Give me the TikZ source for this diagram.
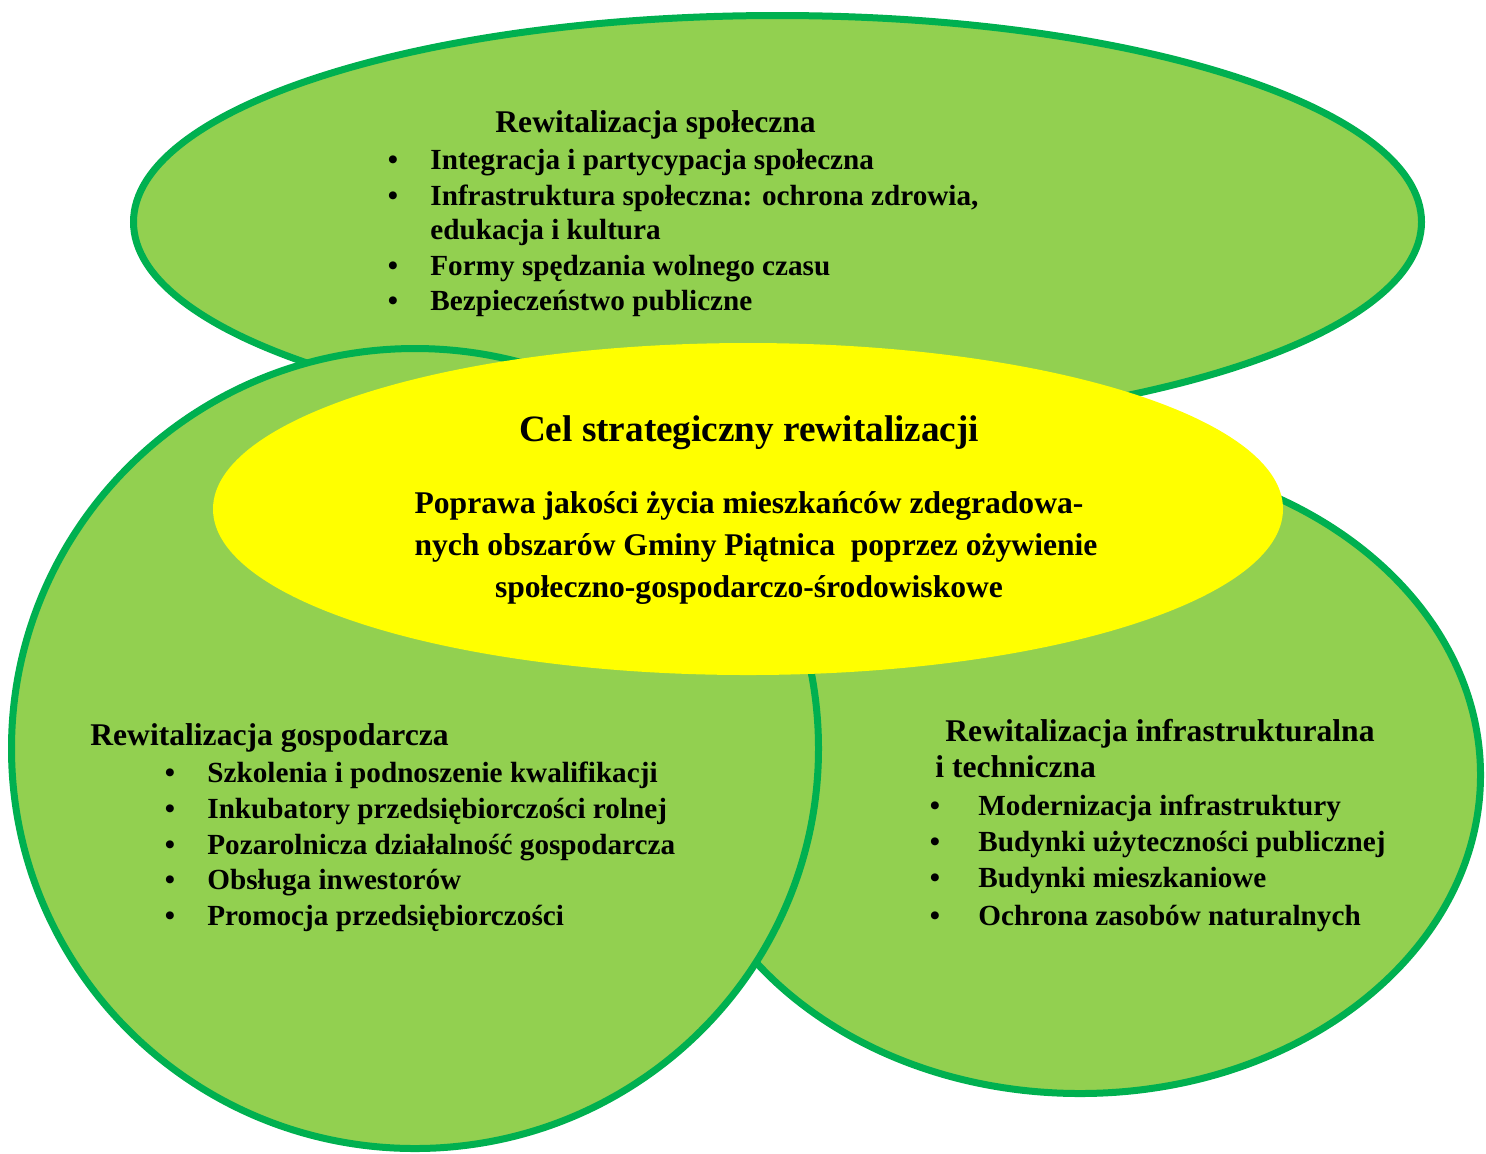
\documentclass[tikz,border=0pt]{standalone}
\usepackage{fontspec}
\setmainfont{Liberation Serif}
\definecolor{lgreen}{HTML}{92D050}
\definecolor{dgreen}{HTML}{00B050}
\definecolor{cyellow}{HTML}{FFFF00}
\begin{document}
\begin{tikzpicture}[x=0.5pt,y=-0.5pt,
  blob/.style={fill=lgreen,draw=dgreen,line width=3.5pt},
  head/.style={font=\bfseries\fontsize{15.8}{18}\selectfont,inner sep=0pt,anchor=base west},
  txt/.style={font=\bfseries\fontsize{14.6}{17}\selectfont,inner sep=0pt,anchor=base west},
  bul/.style={font=\bfseries\fontsize{14.6}{17}\selectfont,inner sep=0pt,anchor=base},
  ctr/.style={font=\bfseries\fontsize{15.8}{18}\selectfont,inner sep=0pt,anchor=base},
  big/.style={font=\bfseries\fontsize{18.6}{22}\selectfont,inner sep=0pt,anchor=base}]
\useasboundingbox (0,0) rectangle (1486,1153);
\clip (0,0) rectangle (1486,1153);
% shapes
\draw[blob] (777.5,222) ellipse [x radius=322pt, y radius=103.25pt];
\draw[blob] (1080,775) ellipse [x radius=200.25pt, y radius=159.25pt];
\draw[blob] (415,748.5) ellipse [x radius=201.75pt, y radius=200pt];
\fill[cyellow] (748,509) ellipse [x radius=267.5pt, y radius=83pt];
% top block
\node[head] (sh) at (495,132) {Rewitalizacja społeczna};
\node[bul] (sb1) at (393,169) {•};
\node[txt] (s1) at (430,169) {Integracja i partycypacja społeczna};
\node[bul] (sb2) at (393,205) {•};
\node[txt] (s2) at (430,205) {Infrastruktura społeczna: ochrona zdrowia,};
\node[txt] (s2b) at (430,239) {edukacja i kultura};
\node[bul] (sb3) at (393,275) {•};
\node[txt] (s3) at (430,275) {Formy spędzania wolnego czasu};
\node[bul] (sb4) at (393,310) {•};
\node[txt] (s4) at (430,310) {Bezpieczeństwo publiczne};
% centre
\node[big] (ch) at (749,441) {Cel strategiczny rewitalizacji};
\node[ctr] (c1) at (749,513) {Poprawa jakości życia mieszkańców zdegradowa-};
\node[ctr] (c2) at (756,555) {nych obszarów Gminy Piątnica~ poprzez ożywienie};
\node[ctr] (c3) at (749,597) {społeczno-gospodarczo-środowiskowe};
% left block
\node[head] (gh) at (90,745) {Rewitalizacja gospodarcza};
\node[bul] (gb1) at (170,782) {•};
\node[txt] (g1) at (207,782) {Szkolenia i podnoszenie kwalifikacji};
\node[bul] (gb2) at (170,818) {•};
\node[txt] (g2) at (207,818) {Inkubatory przedsiębiorczości rolnej};
\node[bul] (gb3) at (170,854) {•};
\node[txt] (g3) at (207,854) {Pozarolnicza działalność gospodarcza};
\node[bul] (gb4) at (170,889) {•};
\node[txt] (g4) at (207,889) {Obsługa inwestorów};
\node[bul] (gb5) at (170,925) {•};
\node[txt] (g5) at (207,925) {Promocja przedsiębiorczości};
% right block
\node[head] (ih) at (945,741) {Rewitalizacja infrastrukturalna};
\node[head] (ih2) at (935,777) {i techniczna};
\node[bul] (ib1) at (935,815) {•};
\node[txt] (i1) at (978,815) {Modernizacja infrastruktury};
\node[bul] (ib2) at (935,851) {•};
\node[txt] (i2) at (978,851) {Budynki użyteczności publicznej};
\node[bul] (ib3) at (935,887) {•};
\node[txt] (i3) at (978,887) {Budynki mieszkaniowe};
\node[bul] (ib4) at (935,925) {•};
\node[txt] (i4) at (978,925) {Ochrona zasobów naturalnych};
\end{tikzpicture}
\end{document}
